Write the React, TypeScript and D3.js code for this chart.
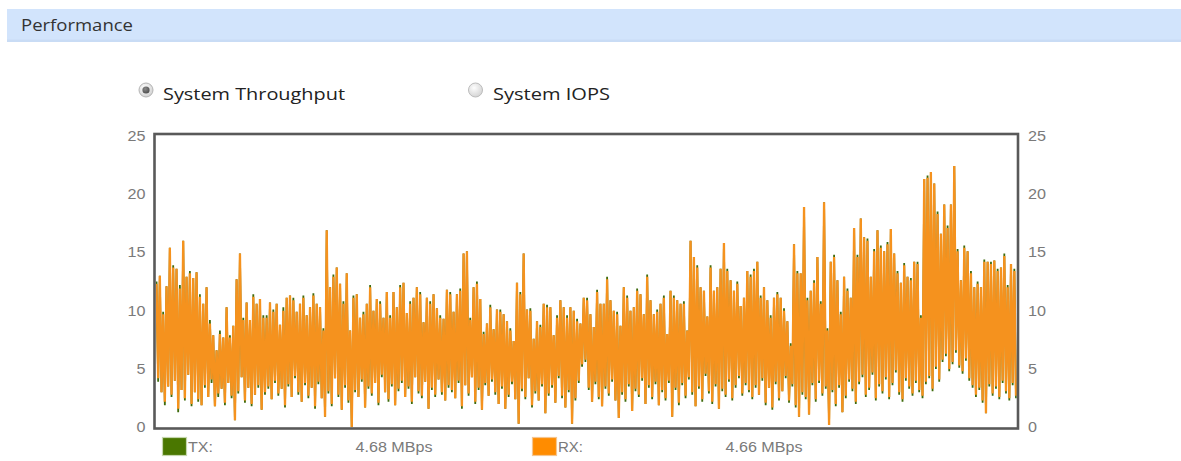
import React, { useEffect, useRef } from "react";
import * as d3 from "d3";

// ---- Data ----
const title = "Performance";
const radioLabels = ["System Throughput", "System IOPS"];
const yTicks = [0, 5, 10, 15, 20, 25];
const legendLabels = ["TX:", "RX:"];
const legendValues = ["4.68 MBps", "4.66 MBps"];

// RX (orange) peaks and troughs of the zig-zag trace
const rxHigh = [
  12.3, 13.0, 9.7, 12.1, 15.4, 13.7, 13.6, 11.9, 16.0, 12.9, 13.2, 12.8, 13.3, 11.2, 10.6, 12.0, 8.9, 7.9, 6.6, 8.0, 7.7, 10.3, 7.7, 8.7, 12.7, 14.9, 9.2, 10.7, 9.2, 11.2, 10.6, 11.0, 9.4,
  9.4, 10.7, 9.9, 10.6, 8.8, 10.0, 11.1, 11.3, 10.9, 9.9, 10.6, 11.1, 9.6, 10.3, 11.3, 10.6, 10.3, 8.3, 16.9, 12.0, 12.9, 13.7, 12.3, 10.6, 13.2, 8.3, 11.1, 11.4, 9.4, 9.7, 10.6, 12.0, 10.0, 11.0, 10.6, 9.4, 11.6, 9.4, 11.6, 10.3, 12.0, 12.4, 9.8, 10.6, 11.1, 12.0, 11.4, 9.0, 11.1, 10.6, 11.4, 10.2, 9.4, 9.3, 11.8,
  11.4, 9.9, 11.4, 11.7, 14.9, 15.1, 9.2, 12.0, 12.3, 11.0, 8.0, 8.9, 10.3, 8.4, 10.1, 9.9, 9.7, 9.1, 8.3, 7.4, 12.4, 11.4, 14.9, 10.1, 10.0, 7.6, 9.1, 8.6, 10.6, 10.3, 10.3, 7.9, 9.4, 10.9, 10.3, 9.4, 10.3, 10.0, 9.1, 8.9, 11.1, 10.9, 9.7, 8.6, 11.6, 10.6, 10.6, 12.7, 10.9, 10.0, 9.7, 8.7, 12.0, 11.1, 10.0, 10.3, 11.7, 11.4, 9.7, 12.9, 10.9, 9.7, 9.9, 10.6, 11.1, 8.0, 11.7, 11.1, 10.9, 10.6, 10.6, 8.3, 16.0, 14.6, 13.7, 12.0, 11.7, 9.5, 13.7, 11.7, 12.0, 13.6, 15.8, 13.4, 12.6, 11.7, 12.3, 10.4, 11.1, 13.4, 12.9,
  13.4, 14.2, 11.1, 12.0, 10.9, 9.4, 11.1, 11.4, 11.1, 10.0, 9.1, 7.0, 15.7, 13.2, 13.2, 18.9, 10.9, 11.7, 12.4, 14.6, 10.6, 19.3, 8.3, 14.2, 14.6, 12.6, 9.7, 12.9, 11.7, 11.1, 17.1, 14.6, 17.9, 16.3, 16.0, 12.9, 15.1, 16.9, 15.4, 15.1, 15.7, 17.0, 14.9, 13.2, 12.4, 13.9, 12.9, 12.6, 14.2, 14.0, 9.4, 21.3, 21.4, 21.9, 20.9, 18.3, 16.6, 19.1, 17.1, 19.1, 22.4, 15.1, 12.6, 15.4, 15.1, 13.2, 12.0, 12.3, 12.0, 14.2, 14.2, 14.0, 14.3, 13.4, 13.7, 14.7, 12.0, 14.0, 13.4,
];
const rxLow = [
  4.2, 3.0, 2.2, 3.5, 2.8, 4.0, 1.6, 3.2, 2.5, 4.5, 2.0, 3.0, 2.4, 1.9, 3.6, 2.6, 4.1, 1.8, 2.9, 3.3, 2.1, 3.8, 2.7, 0.6, 3.1, 4.3, 2.3, 3.4, 2.0, 2.8, 3.6, 1.5, 3.0,
  3.5, 2.4, 4.0, 2.9, 3.3, 1.9, 3.7, 2.6, 4.4, 3.0, 2.2, 3.8, 2.7, 3.4, 1.8, 3.9, 2.5, 0.9, 3.1, 2.0, 4.2, 2.8, 1.5, 3.6, 2.3, 0.0, 3.2, 2.6, 4.1, 1.7, 3.5, 2.9, 3.8, 2.1, 4.5, 3.0, 2.4, 3.7, 1.9, 3.3, 4.0, 2.6, 3.5, 2.2, 4.3, 3.1, 2.7, 3.9, 1.6, 3.4, 2.8, 4.1, 3.0, 2.3, 3.6,
  3.2, 2.5, 4.0, 1.8, 3.6, 2.9, 4.3, 2.2, 3.4, 1.5, 3.8, 2.7, 4.1, 3.0, 2.0, 3.5, 1.6, 2.8, 3.9, 2.4, 0.3, 3.3, 2.6, 4.2, 1.9, 3.1, 2.3, 3.7, 1.2, 2.9, 3.6, 2.1, 4.4, 2.7, 1.7, 3.2, 0.3, 2.5, 4.0, 5.4, 5.8, 3.4, 2.2, 3.9, 2.6, 1.8, 3.5, 2.9, 4.1, 2.3, 0.8, 3.0, 2.4, 3.7, 1.4, 3.3, 2.8, 4.2, 2.0, 3.6, 2.6, 3.9, 1.9, 3.2, 2.5, 4.0, 0.9, 3.4, 2.1, 3.8, 2.7, 4.3, 3.0, 1.8, 3.5, 2.4, 4.6, 3.1, 2.2, 3.7, 1.6, 3.3, 2.8, 4.1, 2.5, 3.6, 4.4, 2.9, 3.8, 3.2, 2.6,
  3.6, 2.8, 4.2, 2.1, 3.4, 1.7, 3.9, 2.5, 3.1, 4.4, 2.3, 3.7, 1.9, 0.9, 3.0, 2.6, 1.1, 3.8, 2.4, 4.0, 2.9, 3.5, 0.2, 3.2, 2.0, 3.6, 1.3, 2.7, 4.1, 3.3, 2.2, 3.9, 4.5, 2.8, 3.4, 4.7, 2.5, 3.7, 3.1, 4.3, 2.6, 3.8, 4.9, 3.0, 2.4, 4.2, 3.5, 2.9, 4.0, 3.2, 2.7, 3.9, 4.4, 3.3, 5.2, 4.1, 5.8, 6.3, 5.0, 5.6, 6.6, 5.3, 4.8, 5.9, 4.2, 3.6, 2.8, 3.4, 2.3, 1.2, 3.7, 2.9, 3.5, 2.6, 4.0, 3.1, 2.5, 3.8, 2.7,
];
// TX (green) peaks and troughs, drawn beneath RX
const txHigh = [
  12.5, 13.0, 9.9, 12.1, 15.4, 13.9, 13.6, 12.2, 16.0, 12.9, 13.4, 12.8, 13.3, 11.4, 10.6, 12.0, 9.2, 7.9, 6.6, 8.3, 7.7, 10.3, 7.9, 8.7, 12.7, 14.9, 9.4, 10.7, 9.2, 11.4, 10.6, 11.0, 9.6,
  9.6, 10.7, 10.1, 10.6, 8.8, 10.3, 11.1, 11.3, 11.1, 9.9, 10.6, 11.3, 9.6, 10.3, 11.5, 10.6, 10.3, 8.5, 16.9, 12.0, 13.1, 13.7, 12.3, 10.8, 13.2, 8.3, 11.3, 11.4, 9.4, 9.9, 10.6, 12.2, 10.0, 11.0, 10.8, 9.4, 11.6, 9.6, 11.6, 10.3, 12.2, 12.4, 9.8, 10.8, 11.1, 12.0, 11.6, 9.0, 11.1, 10.8, 11.4, 10.2, 9.6, 9.3, 11.8,
  11.6, 9.9, 11.4, 11.9, 14.9, 15.1, 9.4, 12.0, 12.5, 11.0, 8.2, 8.9, 10.5, 8.4, 10.1, 10.1, 9.7, 9.1, 8.5, 7.4, 12.4, 11.6, 14.9, 10.1, 10.2, 7.6, 9.1, 8.8, 10.6, 10.5, 10.3, 7.9, 9.6, 10.9, 10.3, 9.6, 10.3, 10.0, 9.3, 8.9, 11.1, 11.1, 9.7, 8.6, 11.8, 10.6, 10.6, 12.9, 10.9, 10.0, 9.9, 8.7, 12.0, 11.3, 10.0, 10.3, 11.9, 11.4, 9.7, 13.1, 10.9, 9.7, 10.1, 10.6, 11.3, 8.0, 11.7, 11.3, 10.9, 10.6, 10.8, 8.3, 16.0, 14.6, 13.9, 12.0, 11.7, 9.5, 13.9, 11.7, 12.0, 13.6, 15.8, 13.6, 12.6, 11.7, 12.5, 10.4, 11.1, 13.4, 13.1,
  13.6, 14.2, 11.3, 12.0, 10.9, 9.6, 11.1, 11.6, 11.1, 10.2, 9.1, 7.2, 15.7, 13.4, 13.2, 18.9, 11.1, 11.7, 12.6, 14.6, 10.8, 19.3, 8.5, 14.2, 14.8, 12.6, 9.9, 12.9, 11.9, 11.1, 17.1, 14.8, 17.9, 16.3, 16.2, 12.9, 15.3, 16.9, 15.6, 15.1, 15.9, 17.0, 14.9, 13.4, 12.4, 14.1, 12.9, 12.8, 14.2, 14.2, 9.6, 21.3, 21.6, 21.9, 20.9, 18.5, 16.6, 19.1, 17.3, 19.1, 22.4, 15.3, 12.6, 15.6, 15.1, 13.4, 12.0, 12.5, 12.0, 14.4, 14.2, 14.2, 14.3, 13.6, 13.7, 14.9, 12.2, 14.0, 13.6,
];
const txLow = [
  3.9, 3.0, 1.9, 3.5, 2.6, 4.0, 1.3, 3.2, 2.3, 4.5, 1.8, 3.0, 2.2, 1.9, 3.4, 2.6, 3.8, 1.8, 2.6, 3.3, 1.9, 3.8, 2.5, 0.6, 2.9, 4.3, 2.1, 3.4, 1.8, 2.8, 3.4, 1.5, 2.8,
  3.3, 2.4, 3.8, 2.7, 3.3, 1.7, 3.5, 2.6, 4.2, 2.8, 2.2, 3.6, 2.5, 3.4, 1.6, 3.7, 2.5, 0.9, 2.9, 1.8, 4.2, 2.6, 1.5, 3.4, 2.1, 0.0, 3.0, 2.6, 3.9, 1.7, 3.3, 2.7, 3.8, 1.9, 4.3, 3.0, 2.2, 3.5, 1.9, 3.1, 3.8, 2.6, 3.3, 2.0, 4.3, 2.9, 2.5, 3.9, 1.6, 3.2, 2.6, 4.1, 2.8, 2.3, 3.4,
  3.0, 2.5, 3.8, 1.6, 3.6, 2.7, 4.3, 2.0, 3.2, 1.5, 3.6, 2.7, 3.9, 2.8, 2.0, 3.3, 1.6, 2.6, 3.7, 2.4, 0.3, 3.1, 2.4, 4.2, 1.7, 2.9, 2.3, 3.5, 1.2, 2.7, 3.4, 2.1, 4.2, 2.5, 1.7, 3.0, 0.3, 2.3, 3.8, 5.2, 5.6, 3.2, 2.2, 3.7, 2.4, 1.8, 3.3, 2.7, 3.9, 2.3, 0.8, 2.8, 2.2, 3.5, 1.4, 3.1, 2.6, 4.0, 2.0, 3.4, 2.4, 3.7, 1.9, 3.0, 2.3, 3.8, 0.9, 3.2, 1.9, 3.6, 2.5, 4.1, 2.8, 1.8, 3.3, 2.2, 4.4, 2.9, 2.0, 3.5, 1.6, 3.1, 2.6, 3.9, 2.3, 3.4, 4.2, 2.7, 3.6, 3.0, 2.4,
  3.4, 2.8, 4.0, 1.9, 3.4, 1.5, 3.7, 2.3, 3.1, 4.2, 2.1, 3.5, 1.7, 0.9, 2.8, 2.4, 1.1, 3.6, 2.2, 3.8, 2.7, 3.3, 0.2, 3.0, 1.8, 3.4, 1.3, 2.5, 3.9, 3.1, 2.0, 3.7, 4.3, 2.6, 3.2, 4.5, 2.3, 3.5, 2.9, 4.1, 2.4, 3.6, 4.7, 2.8, 2.2, 4.0, 3.3, 2.7, 3.8, 3.0, 2.5, 3.7, 4.2, 3.1, 5.0, 3.9, 5.6, 6.1, 4.8, 5.4, 6.4, 5.1, 4.6, 5.7, 4.0, 3.4, 2.6, 3.2, 2.1, 1.2, 3.5, 2.7, 3.3, 2.4, 3.8, 2.9, 2.3, 3.6, 2.5,
];

function zigzag(high: number[], low: number[]): number[] {
  const out: number[] = [];
  const n = Math.min(high.length, low.length);
  for (let i = 0; i < n; i++) {
    out.push(high[i]);
    out.push(low[i]);
  }
  return out;
}

const W = 1181;
const H = 461;
const BOX = { left: 154.5, top: 134, right: 1018, bottom: 428.5 };

export default function App() {
  const leftAxisRef = useRef<SVGGElement>(null);
  const rightAxisRef = useRef<SVGGElement>(null);

  const rx = zigzag(rxHigh, rxLow);
  const tx = zigzag(txHigh, txLow);
  const n = Math.min(rx.length, tx.length);

  const x = d3.scaleLinear().domain([0, n - 1]).range([BOX.left + 2, BOX.right - 2]);
  const y = d3.scaleLinear().domain([0, 25]).range([427.3, 135.8]);

  const line = d3
    .line<number>()
    .x((_, i) => x(i))
    .y((d) => y(d));

  useEffect(() => {
    const style = (g: d3.Selection<SVGGElement, unknown, null, undefined>) => {
      g.select(".domain").remove();
      g.selectAll("text")
        .attr("font-family", "'Liberation Sans', Arial, sans-serif")
        .attr("font-size", 14)
        .attr("fill", "#7a7a7a")
        .attr("textLength", (d: any) => String(d).length * 9)
        .attr("lengthAdjust", "spacingAndGlyphs");
    };
    if (leftAxisRef.current) {
      const g = d3.select(leftAxisRef.current);
      g.call(d3.axisLeft(y).tickValues(yTicks).tickSize(0).tickPadding(9));
      style(g);
    }
    if (rightAxisRef.current) {
      const g = d3.select(rightAxisRef.current);
      g.call(d3.axisRight(y).tickValues(yTicks).tickSize(0).tickPadding(10));
      style(g);
    }
  });

  const legendX = [162.5, 532.5];
  const swatchFill = ["#4a7700", "#ff8c00"];
  const swatchStroke = ["#c5d6ad", "#f4c590"];
  const lineColors = { tx: "#3f6b0c", rx: "#f5921e" };

  return (
    <svg
      width={W}
      height={H}
      style={{ position: "absolute", left: 0, top: 0, background: "#fff" }}
    >
      <defs>
        <radialGradient id="radioOn" cx="40%" cy="35%" r="70%">
          <stop offset="0%" stopColor="#ffffff" />
          <stop offset="100%" stopColor="#cfcfcf" />
        </radialGradient>
        <radialGradient id="radioDot" cx="40%" cy="35%" r="70%">
          <stop offset="0%" stopColor="#8a8a8a" />
          <stop offset="100%" stopColor="#4a4a4a" />
        </radialGradient>
        <radialGradient id="radioOff" cx="40%" cy="35%" r="70%">
          <stop offset="0%" stopColor="#fdfdfd" />
          <stop offset="100%" stopColor="#d2d2d2" />
        </radialGradient>
        <clipPath id="plotClip">
          <rect x={BOX.left + 1.2} y={BOX.top + 1.2} width={BOX.right - BOX.left - 2.4} height={BOX.bottom - BOX.top - 2.4} />
        </clipPath>
      </defs>

      {/* Header band */}
      <rect x={7} y={9} width={W - 7} height={33} fill="#d2e4fc" />
      <rect x={7} y={39.5} width={W - 7} height={2.5} fill="#c9dcf5" />
      <text
        x={21}
        y={31}
        fontFamily="'Open Sans', 'Noto Sans', sans-serif"
        fontSize={16.5}
        fill="#333"
        textLength={112}
        lengthAdjust="spacingAndGlyphs"
      >
        {title}
      </text>

      {/* Radio buttons */}
      <circle cx={146} cy={90} r={7} fill="url(#radioOn)" stroke="#b4b4b4" strokeWidth={1} />
      <circle cx={146} cy={90} r={3.6} fill="url(#radioDot)" />
      <text
        x={163}
        y={100}
        fontFamily="'Open Sans', 'Noto Sans', sans-serif"
        fontSize={17}
        fill="#222"
        textLength={182}
        lengthAdjust="spacingAndGlyphs"
      >
        {radioLabels[0]}
      </text>
      <circle cx={475.5} cy={90} r={7} fill="url(#radioOff)" stroke="#bcbcbc" strokeWidth={1} />
      <text
        x={493}
        y={100}
        fontFamily="'Open Sans', 'Noto Sans', sans-serif"
        fontSize={17}
        fill="#222"
        textLength={117}
        lengthAdjust="spacingAndGlyphs"
      >
        {radioLabels[1]}
      </text>

      {/* Lines */}
      <g clipPath="url(#plotClip)">
        <path d={line(tx.slice(0, n)) || ""} fill="none" stroke={lineColors.tx} strokeWidth={1.8} strokeLinejoin="miter" />
        <path d={line(rx.slice(0, n)) || ""} fill="none" stroke={lineColors.rx} strokeWidth={2.3} strokeLinejoin="miter" />
      </g>

      {/* Plot frame */}
      <rect
        x={BOX.left}
        y={BOX.top}
        width={BOX.right - BOX.left}
        height={BOX.bottom - BOX.top}
        fill="none"
        stroke="#595959"
        strokeWidth={2.6}
      />

      {/* Axes */}
      <g ref={leftAxisRef} transform={`translate(${BOX.left},0)`} />
      <g ref={rightAxisRef} transform={`translate(${BOX.right},0)`} />

      {/* Legend */}
      {legendLabels.map((lab, i) => (
        <g key={lab}>
          <rect x={legendX[i]} y={437.5} width={24} height={18} fill={swatchFill[i]} stroke={swatchStroke[i]} strokeWidth={1.2} />
          <text
            x={legendX[i] + 25.5}
            y={452}
            fontFamily="'Liberation Sans', Arial, sans-serif"
            fontSize={14}
            fill="#7a7a7a"
            textLength={25}
            lengthAdjust="spacingAndGlyphs"
          >
            {lab}
          </text>
          <text
            x={legendX[i] + 193}
            y={452}
            fontFamily="'Liberation Sans', Arial, sans-serif"
            fontSize={14}
            fill="#7a7a7a"
            textLength={77}
            lengthAdjust="spacingAndGlyphs"
          >
            {legendValues[i]}
          </text>
        </g>
      ))}
    </svg>
  );
}
